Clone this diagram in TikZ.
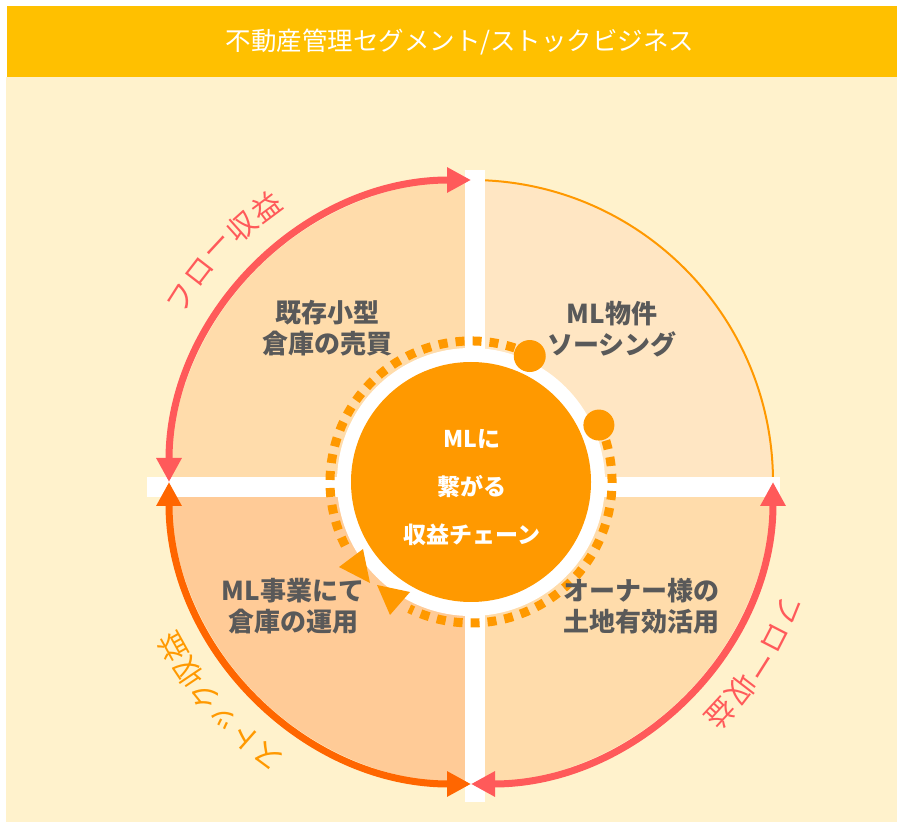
\documentclass[tikz,border=0pt]{standalone}
\usepackage{fontspec}
\setmainfont{Noto Sans CJK JP}
\usetikzlibrary{arrows.meta}
\definecolor{hdr}{HTML}{FFC000}
\definecolor{bgc}{HTML}{FFF2CC}
\definecolor{qa}{HTML}{FFDCAB}
\definecolor{qb}{HTML}{FFE6C3}
\definecolor{qc}{HTML}{FFCB97}
\definecolor{redA}{HTML}{FF5A5A}
\definecolor{orgA}{HTML}{FF6600}
\definecolor{orgB}{HTML}{FF9900}
\definecolor{txt}{HTML}{595959}
\tikzset{
  bigarc/.style={line width=7pt, {Triangle[length=24pt,width=24pt]}-{Triangle[length=24pt,width=24pt]}},
  lbl/.style={text=txt, align=center, font={\bfseries\fontsize{26}{31}\selectfont}},
  ctext/.style={font={\fontsize{29}{30}\selectfont}, inner sep=0pt},
  ring/.style={orgB, line width=9pt, dash pattern=on 9pt off 8pt}
}
\begin{document}
\begin{tikzpicture}[x=1pt,y=1pt]
\useasboundingbox (0,0) rectangle (905,828);
\fill[white] (0,0) rectangle (905,828);
\fill[bgc] (6,6) rectangle (897,751);
\fill[hdr] (7,751) rectangle (897,822);
\node[text=white, font={\fontsize{25.5}{28}\selectfont}] (title) at (460,786) {不動産管理セグメント/ストックビジネス};

\coordinate (C) at (471,346);
% quadrants
\fill[qa] (C) -- ([shift={(180:302)}]C) arc (180:90:302) -- cycle;
\fill[qb] (C) -- ([shift={(90:302)}]C) arc (90:0:302) -- cycle;
\fill[qa] (C) -- ([shift={(0:302)}]C) arc (360:270:302) -- cycle;
\fill[qc] (C) -- ([shift={(270:302)}]C) arc (270:180:302) -- cycle;
\draw[orgB, line width=2pt] ([shift={(90:302)}]C) arc (90:0:302);
% white bars
\fill[white] (465,26) rectangle (485,658);
\fill[white] (147,331) rectangle (780,351);
% outer arcs
\draw[redA, bigarc] ([shift={(180:302)}]C) arc (180:90:302);
\draw[orgA, bigarc] ([shift={(270:302)}]C) arc (270:180:302);
\draw[redA, bigarc] ([shift={(270:302)}]C) arc (270:360:302);
% centre
\fill[white] (C) circle (134);
\draw[ring] ([shift={(65:141)}]C) arc (65:208:141);
\draw[ring] ([shift={(24:141)}]C) arc (24:-116:141);
\fill[orgB] (C) circle (120);
\fill[orgB] ([shift={(65:139)}]C) circle (16);
\fill[orgB] ([shift={(24:140)}]C) circle (15.5);
\fill[orgB] (339,261) -- (363,279) -- (370,245) -- cycle;
\fill[orgB] (377,243) -- (410,236) -- (390,213) -- cycle;
\node[text=white, align=center, font={\bfseries\fontsize{23}{48}\selectfont}] (mid) at (472,340) {MLに\\繋がる\\収益チェーン};
% labels
\node[lbl] (tl) at (327,500) {既存小型\\倉庫の売買};
\node[lbl] (tr) at (612,499) {ML物件\\ソーシング};
\node[lbl] (br) at (641,222) {オーナー様の\\土地有効活用};
\node[lbl] (bl) at (293,222) {ML事業にて\\倉庫の運用};
% curved texts
\foreach \ch/\a [count=\i] in {フ/147.5,ロ/142.3,ー/137.1,収/131.9,益/126.7}
  \node[ctext, text=redA, rotate=\a-90] (ftl\i) at ([shift={(\a:343)}]C) {\ch};
\foreach \ch/\a [count=\i] in {フ/-22,ロ/-27.2,ー/-32.4,収/-37.6,益/-42.8}
  \node[ctext, text=redA, rotate=\a-90] (fbr\i) at ([shift={(\a:341)}]C) {\ch};
\foreach \ch/\a [count=\i] in {ス/233.5,ト/228.6,ッ/223.7,ク/218.8,収/213.9,益/209}
  \node[ctext, text=orgB, rotate=\a-90] (sbl\i) at ([shift={(\a:341)}]C) {\ch};
\end{tikzpicture}
\end{document}
